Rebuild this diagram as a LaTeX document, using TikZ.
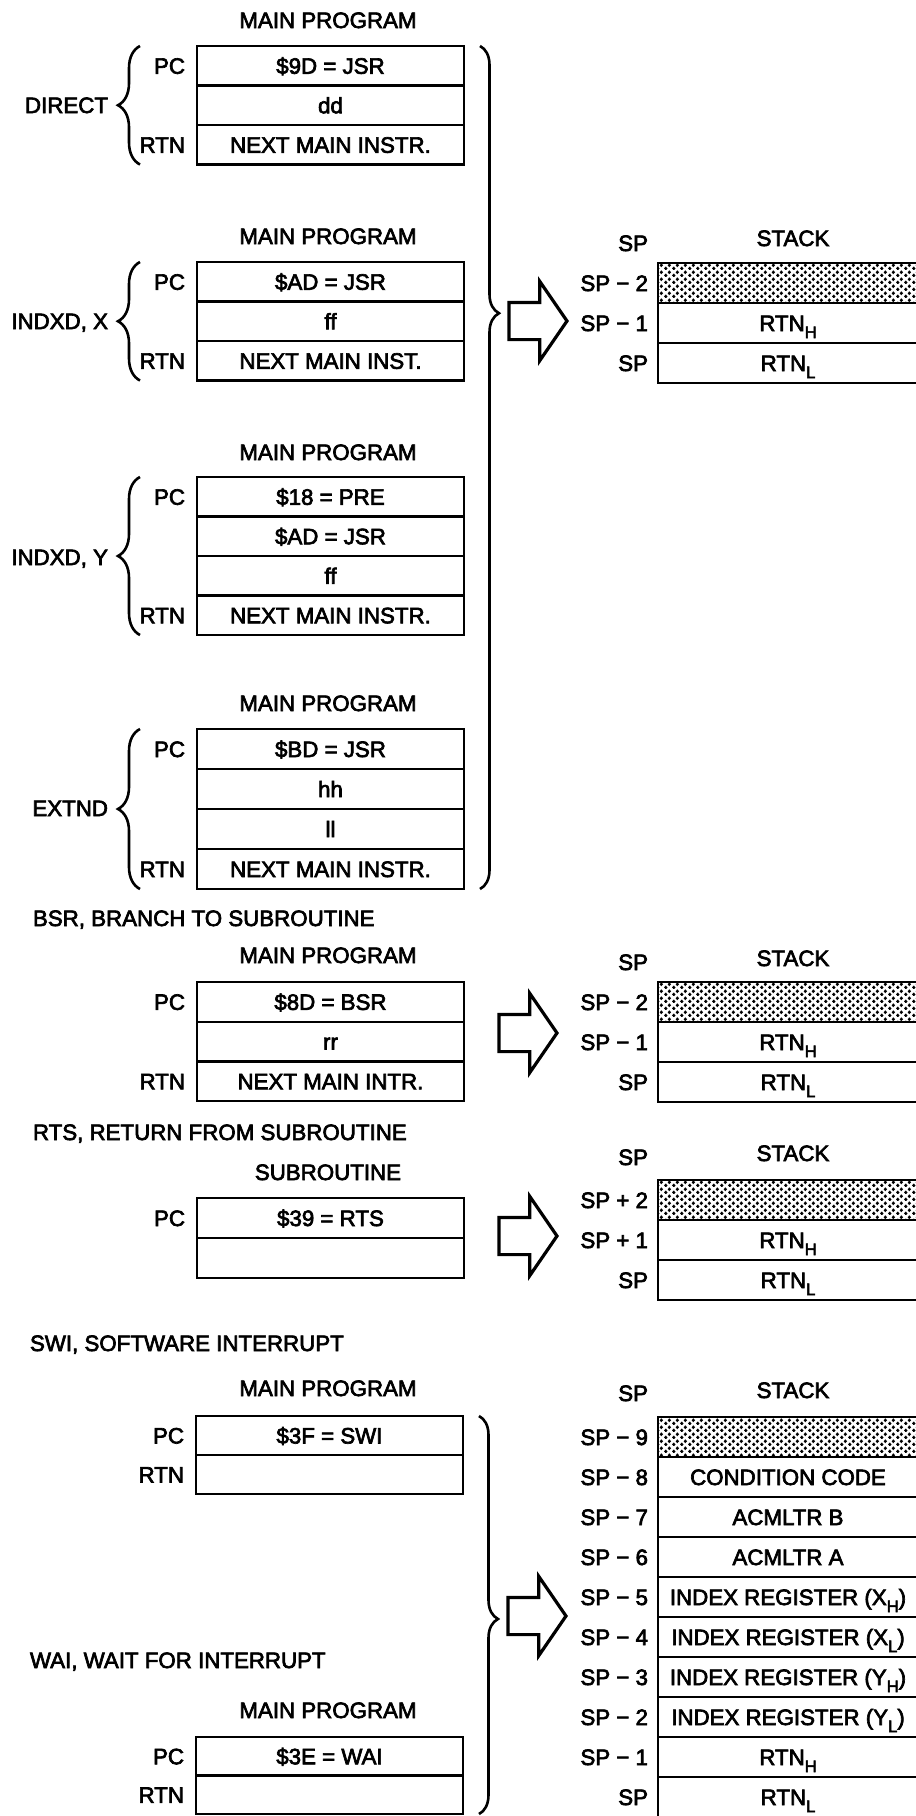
\documentclass[tikz,border=0pt]{standalone}
\usepackage{fontspec}
\setmainfont{Liberation Sans}[FakeBold=3]
\usetikzlibrary{positioning,decorations.pathreplacing,shapes.arrows,patterns.meta}
\newcommand{\lowsub}[1]{\raisebox{-7pt}{\fontsize{16.5}{16.5}\selectfont #1}}
\tikzdeclarepattern{
  name=stackdots,
  type=uncolored,
  bottom left={(0pt,0pt)},
  top right={(8pt,6.6pt)},
  tile size={(8pt,6.6pt)},
  code={
    \pgfpathcircle{\pgfpoint{2pt}{1.65pt}}{2pt}
    \pgfpathcircle{\pgfpoint{6pt}{4.95pt}}{2pt}
    \pgfusepath{fill}
  }
}
\tikzset{
  every node/.style={font=\fontsize{22.3}{26}\selectfont,inner sep=0pt,outer sep=0pt},
  cell/.style={draw,line width=2.4pt,minimum width=267pt,minimum height=39.5pt,text height=16pt,text depth=0pt},
  stk/.style={draw,line width=2.4pt,minimum width=260pt,minimum height=40pt,text height=16pt,text depth=0pt},
  stkdots/.style={stk,pattern=stackdots,pattern color=black},
  tag/.style={text height=16pt,text depth=0pt,anchor=east},
  ttl/.style={text height=16pt,text depth=0pt},
  secthead/.style={text height=16pt,text depth=0pt,anchor=west},
  brL/.style={decorate,decoration={brace,amplitude=22pt},line width=2.6pt},
  brR/.style={decorate,decoration={brace,amplitude=19pt,aspect=#1},line width=2.6pt},
  brR/.default=0.5,
  hollow/.style={single arrow,draw,fill=white,line width=3.2pt,line join=miter,inner xsep=0pt,inner ysep=17pt,
    minimum height=58pt,minimum width=76pt,single arrow head extend=21pt,single arrow tip angle=111,anchor=tail}
}

\begin{document}
\begin{tikzpicture}[x=1pt,y=-1pt]
  \useasboundingbox (0,0) rectangle (916,1816);
  \clip (0,0) rectangle (916,1816);

  % direct
  \node[ttl] (dirttl) at (328,20) {MAIN PROGRAM};
  \node[cell,anchor=north] (dir1) at (330.5,46) {\$9D = JSR};
  \node[cell,below=0pt of dir1] (dir2) {dd};
  \node[cell,below=0pt of dir2] (dir3) {NEXT MAIN INSTR.};
  \node[tag,left=12pt of dir1] (dirpc) {PC};
  \node[tag,left=12pt of dir3] (dirrtn) {RTN};
  \draw[brL] ([xshift=-57pt]dir3.south west) -- ([xshift=-57pt]dir1.north west);
  \node[tag] (dirmode) at (108,105) {DIRECT};

  % indexed x
  \node[ttl] (ixttl) at (328,236) {MAIN PROGRAM};
  \node[cell,anchor=north] (ix1) at (330.5,262) {\$AD = JSR};
  \node[cell,below=0pt of ix1] (ix2) {ff};
  \node[cell,below=0pt of ix2] (ix3) {NEXT MAIN INST.};
  \node[tag,left=12pt of ix1] (ixpc) {PC};
  \node[tag,left=12pt of ix3] (ixrtn) {RTN};
  \draw[brL] ([xshift=-57pt]ix3.south west) -- ([xshift=-57pt]ix1.north west);
  \node[tag] (ixmode) at (108,321) {INDXD, X};

  % indexed y
  \node[ttl] (iyttl) at (328,452) {MAIN PROGRAM};
  \node[cell,anchor=north] (iy1) at (330.5,477) {\$18 = PRE};
  \node[cell,below=0pt of iy1] (iy2) {\$AD = JSR};
  \node[cell,below=0pt of iy2] (iy3) {ff};
  \node[cell,below=0pt of iy3] (iy4) {NEXT MAIN INSTR.};
  \node[tag,left=12pt of iy1] (iypc) {PC};
  \node[tag,left=12pt of iy4] (iyrtn) {RTN};
  \draw[brL] ([xshift=-57pt]iy4.south west) -- ([xshift=-57pt]iy1.north west);
  \node[tag] (iymode) at (108,557) {INDXD, Y};

  % extended
  \node[ttl] (exttl) at (328,703) {MAIN PROGRAM};
  \node[cell,minimum height=40pt,anchor=north] (ex1) at (330.5,729) {\$BD = JSR};
  \node[cell,minimum height=40pt,below=0pt of ex1] (ex2) {hh};
  \node[cell,minimum height=40pt,below=0pt of ex2] (ex3) {ll};
  \node[cell,minimum height=40pt,below=0pt of ex3] (ex4) {NEXT MAIN INSTR.};
  \node[tag,left=12pt of ex1] (expc) {PC};
  \node[tag,left=12pt of ex4] (exrtn) {RTN};
  \draw[brL] ([xshift=-57pt]ex4.south west) -- ([xshift=-57pt]ex1.north west);
  \node[tag] (exmode) at (108,808) {EXTND};

  \draw[brR=0.317] ([xshift=16pt]dir1.north east) -- ([xshift=16pt]ex4.south east);

  % jsr stack
  \node[tag] (jsrsp) at (648,243) {SP};
  \node[ttl] (jsrhd) at (793,238) {STACK};
  \node[stkdots,anchor=north] (js1) at (788,263) {};
  \node[stk,below=0pt of js1] (js2) {RTN\lowsub{H}};
  \node[stk,below=0pt of js2] (js3) {RTN\lowsub{L}};
  \node[tag,left=10pt of js1] {SP − 2};
  \node[tag,left=10pt of js2] {SP − 1};
  \node[tag,left=10pt of js3] {SP};
  \node[hollow] (jsrarr) at (509,321) {};

  % bsr
  \node[secthead] (bsrhd) at (33,918) {BSR, BRANCH TO SUBROUTINE};
  \node[ttl] (bsrttl) at (328,955) {MAIN PROGRAM};
  \node[cell,minimum height=39.7pt,anchor=north] (bsr1) at (330.5,982) {\$8D = BSR};
  \node[cell,minimum height=39.7pt,below=0pt of bsr1] (bsr2) {rr};
  \node[cell,minimum height=39.7pt,below=0pt of bsr2] (bsr3) {NEXT MAIN INTR.};
  \node[tag,left=12pt of bsr1] (bsrpc) {PC};
  \node[tag,left=12pt of bsr3] (bsrrtn) {RTN};

  \node[tag] (bsrsp) at (648,962) {SP};
  \node[ttl] (bsrstk) at (793,958) {STACK};
  \node[stkdots,anchor=north] (bs1) at (788,982) {};
  \node[stk,below=0pt of bs1] (bs2) {RTN\lowsub{H}};
  \node[stk,below=0pt of bs2] (bs3) {RTN\lowsub{L}};
  \node[tag,left=10pt of bs1] {SP − 2};
  \node[tag,left=10pt of bs2] {SP − 1};
  \node[tag,left=10pt of bs3] {SP};
  \node[hollow] (bsrarr) at (499,1033) {};

  % rts
  \node[secthead] (rtshd) at (33,1132) {RTS, RETURN FROM SUBROUTINE};
  \node[ttl] (rtsttl) at (328,1172) {SUBROUTINE};
  \node[cell,minimum height=40pt,anchor=north] (rts1) at (330.5,1198) {\$39 = RTS};
  \node[cell,minimum height=40pt,below=0pt of rts1] (rts2) {};
  \node[tag,left=12pt of rts1] (rtspc) {PC};

  \node[tag] (rtssp) at (648,1157) {SP};
  \node[ttl] (rtsstk) at (793,1153) {STACK};
  \node[stkdots,anchor=north] (rs1) at (788,1180) {};
  \node[stk,below=0pt of rs1] (rs2) {RTN\lowsub{H}};
  \node[stk,below=0pt of rs2] (rs3) {RTN\lowsub{L}};
  \node[tag,left=10pt of rs1] {SP + 2};
  \node[tag,left=10pt of rs2] {SP + 1};
  \node[tag,left=10pt of rs3] {SP};
  \node[hollow] (rtsarr) at (499,1236) {};

  % swi / wai
  \node[secthead] (swihd) at (30,1343) {SWI, SOFTWARE INTERRUPT};
  \node[ttl] (swittl) at (328,1388) {MAIN PROGRAM};
  \node[cell,minimum height=39pt,anchor=north] (swi1) at (329.5,1416) {\$3F = SWI};
  \node[cell,minimum height=39pt,below=0pt of swi1] (swi2) {};
  \node[tag,left=12pt of swi1] (swipc) {PC};
  \node[tag,left=12pt of swi2] (swirtn) {RTN};

  \node[secthead] (waihd) at (30,1660) {WAI, WAIT FOR INTERRUPT};
  \node[ttl] (waittl) at (328,1710) {MAIN PROGRAM};
  \node[cell,minimum height=38.5pt,anchor=north] (wai1) at (329.5,1737) {\$3E = WAI};
  \node[cell,minimum height=38.5pt,below=0pt of wai1] (wai2) {};
  \node[tag,left=12pt of wai1] (waipc) {PC};
  \node[tag,left=12pt of wai2] (wairtn) {RTN};

  \draw[brR=0.51] ([xshift=16pt]swi1.north east) -- ([xshift=16pt]wai2.south east);

  \node[tag] (intsp) at (648,1393) {SP};
  \node[ttl] (intstk) at (793,1390) {STACK};
  \node[stkdots,anchor=north] (is9) at (788,1417) {};
  \node[stk,below=0pt of is9] (is8) {CONDITION CODE};
  \node[stk,below=0pt of is8] (is7) {ACMLTR B};
  \node[stk,below=0pt of is7] (is6) {ACMLTR A};
  \node[stk,below=0pt of is6] (is5) {INDEX REGISTER (X\lowsub{H})};
  \node[stk,below=0pt of is5] (is4) {INDEX REGISTER (X\lowsub{L})};
  \node[stk,below=0pt of is4] (is3) {INDEX REGISTER (Y\lowsub{H})};
  \node[stk,below=0pt of is3] (is2) {INDEX REGISTER (Y\lowsub{L})};
  \node[stk,below=0pt of is2] (is1) {RTN\lowsub{H}};
  \node[stk,below=0pt of is1] (is0) {RTN\lowsub{L}};
  \node[tag,left=10pt of is9] {SP − 9};
  \node[tag,left=10pt of is8] {SP − 8};
  \node[tag,left=10pt of is7] {SP − 7};
  \node[tag,left=10pt of is6] {SP − 6};
  \node[tag,left=10pt of is5] {SP − 5};
  \node[tag,left=10pt of is4] {SP − 4};
  \node[tag,left=10pt of is3] {SP − 3};
  \node[tag,left=10pt of is2] {SP − 2};
  \node[tag,left=10pt of is1] {SP − 1};
  \node[tag,left=10pt of is0] {SP};
  \node[hollow] (intarr) at (508,1616) {};
\end{tikzpicture}
\end{document}
